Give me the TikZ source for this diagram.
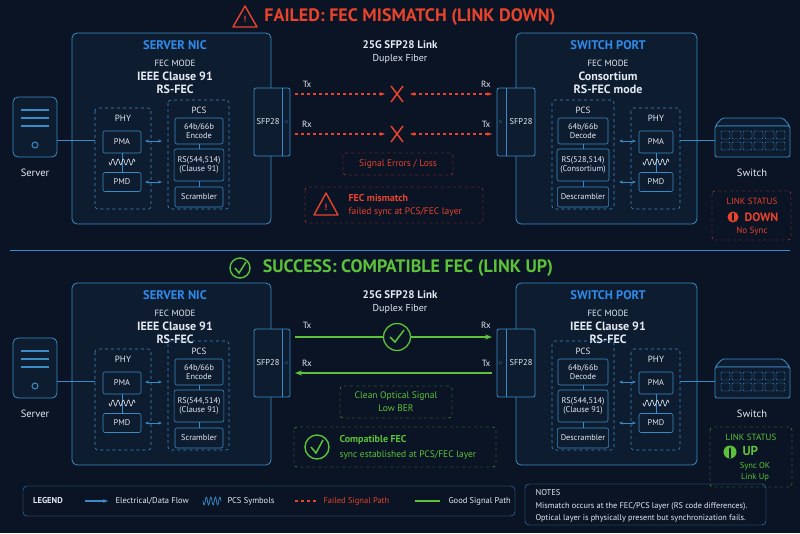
\documentclass[tikz,border=0pt]{standalone}
\usepackage{fontspec}
\setmainfont{PT Sans}
\usetikzlibrary{arrows.meta,positioning}

\definecolor{bg}{HTML}{0A1424}
\definecolor{panel}{HTML}{0E1C30}
\definecolor{edge}{HTML}{3A8CC8}
\definecolor{head}{HTML}{2E8BEA}
\definecolor{bad}{HTML}{E8432C}
\definecolor{good}{HTML}{5CC23A}
\definecolor{txt}{HTML}{E4EAF2}

\tikzset{
  unit/.style={draw=edge, fill=panel, rounded corners=5pt, line width=0.8pt},
  layer/.style={draw=edge, dashed, rounded corners=3pt, line width=0.6pt},
  block/.style={draw=edge, fill=panel, rounded corners=2pt, line width=0.6pt, text=txt,
    font=\fontsize{8.3}{9.5}\selectfont, align=center},
  lbl/.style={text=txt, font=\fontsize{9}{11}\selectfont, align=center},
  hd/.style={text=head, font=\fontsize{12.5}{14}\selectfont\bfseries},
  mode/.style={text=txt, font=\fontsize{12}{13.5}\selectfont\bfseries, align=center},
  flow/.style={{Stealth[length=4pt]}-{Stealth[length=4pt]}, edge, line width=0.8pt},
  failed/.style={bad, dashed, line width=1.2pt},
  ok/.style={good, line width=1.2pt}
}

\newcommand{\wavy}[2]{% squiggle of PCS symbols
  \draw[txt, line width=0.6pt] plot[domain=0:1, samples=60] ({#1+26*\x},{#2+3*sin(\x*1800)});}

\begin{document}
\begin{tikzpicture}[x=1pt, y=-1pt]
  \fill[bg] (0,0) rectangle (800,533);
  \useasboundingbox (0,0) rectangle (800,533);

  % ---------- top: failed ----------
  \node[text=bad, font=\fontsize{18}{20}\selectfont\bfseries] (title1) at (410,17) {FAILED: FEC MISMATCH (LINK DOWN)};
  \draw[bad, line width=1.4pt, line join=round] (245,6) -- (257,27) -- (233,27) -- cycle;
  \node[text=bad, font=\small\bfseries] at (245,19) {!};

  \foreach \dy/\dz/\rs/\rsb/\mA/\mB in {0/0/{RS(528,514)}/{(Consortium)}/Consortium/{RS-FEC mode},
                                   250/-9/{RS(544,514)}/{(Clause 91)}/{IEEE Clause 91}/RS-FEC} {
  \begin{scope}[shift={(0,\dy)}]
    \draw[unit] (72,33) rectangle (271,224+\dz);
    \node[hd] at (175,45) {SERVER NIC};
    \node[lbl] at (175,63) {FEC MODE};
    \node[mode] at (175,83) {IEEE Clause 91\\RS-FEC};
    \draw[unit] (516,33) rectangle (697,224+\dz);
    \node[hd] at (608,45) {SWITCH PORT};
    \node[lbl] at (608,63) {FEC MODE};
    \node[mode] at (608,83) {\mA\\\mB};
    \node[lbl, font=\fontsize{11}{13}\selectfont\bfseries] at (400,45) {25G SFP28 Link};
    \node[lbl, font=\fontsize{10}{12}\selectfont] at (400,59) {Duplex Fiber};
  \begin{scope}[shift={(0,\dz)}]
    % server side
    \draw[unit] (13,97) rectangle (57,157);
    \foreach \ly in {110,118,126} \draw[edge, line width=1.2pt] (21,\ly) -- (49,\ly);
    \draw[edge, line width=1pt] (35,145) circle (3);
    \node[lbl, font=\fontsize{10.5}{12}\selectfont] at (35,173) {Server};
    \draw[layer] (95,108) rectangle (151,209);
    \node[lbl] at (123,118) {PHY};
    \node[block, minimum width=38pt, minimum height=22pt] (pmaL) at (122,142) {PMA};
    \node[block, minimum width=38pt, minimum height=19pt] (pmdL) at (122,182) {PMD};
    \draw[edge] (pmaL) -- (pmdL);
    \wavy{109}{162}
    \draw[edge, line width=0.8pt] (57,140) -- (95,140);
    \draw[layer] (168,100) rectangle (229,209);
    \node[lbl] at (199,110) {PCS};
    \node[block, minimum width=48pt, minimum height=26pt] (encL) at (199,131) {64b/66b\\Encode};
    \node[block, minimum width=48pt, minimum height=32pt] (rsL) at (199,165) {RS(544,514)\\(Clause 91)};
    \node[block, minimum width=48pt, minimum height=20pt] (scrL) at (199,197) {Scrambler};
    \draw[edge] (encL) -- (rsL) -- (scrL);
    \draw[flow] (145,141) -- (162,141);
    \draw[flow] (145,182) -- (162,182);
    \draw[unit, rounded corners=2pt] (254,88) rectangle (290,156);
    \draw[edge, line width=0.6pt] (282,88) -- (282,156);
    \node[lbl, font=\fontsize{8.5}{10}\selectfont] (sfpL) at (268,122) {SFP28};
    \node[text=edge, font=\tiny] at (286,122) {$\triangleleft$};

    % switch side
    \draw[unit, rounded corners=2pt] (497,88) rectangle (535,156);
    \draw[edge, line width=0.6pt] (506,88) -- (506,156);
    \node[lbl, font=\fontsize{8.5}{10}\selectfont] (sfpR) at (521,122) {SFP28};
    \node[text=edge, font=\tiny] at (501,122) {$\triangleright$};
    \draw[layer] (552,100) rectangle (614,209);
    \node[lbl] at (583,110) {PCS};
    \node[block, minimum width=50pt, minimum height=26pt] (decR) at (583,131) {64b/66b\\Decode};
    \node[block, minimum width=50pt, minimum height=32pt] (rsR) at (583,165) {\rs\\\rsb};
    \node[block, minimum width=50pt, minimum height=20pt] (dscR) at (583,197) {Descrambler};
    \draw[edge] (decR) -- (rsR) -- (dscR);
    \draw[layer] (631,108) rectangle (680,209);
    \node[lbl] at (656,118) {PHY};
    \node[block, minimum width=34pt, minimum height=22pt] (pmaR) at (656,142) {PMA};
    \node[block, minimum width=34pt, minimum height=19pt] (pmdR) at (656,182) {PMD};
    \draw[edge] (pmaR) -- (pmdR);
    \wavy{643}{162}
    \draw[flow] (619,141) -- (636,141);
    \draw[flow] (619,182) -- (636,182);
    \draw[unit, rounded corners=2pt] (722,118) -- (783,118) -- (790,126) -- (715,126) -- cycle;
    \draw[unit, rounded corners=2pt] (715,126) rectangle (790,157);
    \foreach \px in {0,...,5} \foreach \py in {131,142}
      \draw[edge, rounded corners=1pt] ({721+11*\px},\py) rectangle ({730+11*\px},\py+8);
    \draw[edge, line width=0.8pt] (680,140) -- (715,140);
    \node[lbl, font=\fontsize{10.5}{12}\selectfont] at (752,173) {Switch};
  \end{scope}
  \end{scope}
  }

  % top links
  \coordinate (t1a) at (295,94);  \coordinate (t1b) at (492,94);
  \coordinate (t2a) at (295,134); \coordinate (t2b) at (492,134);
  \node[lbl] at (307,84) {Tx}; \node[lbl] at (486,84) {Rx};
  \node[lbl] at (307,124) {Rx}; \node[lbl] at (486,124) {Tx};
  \foreach \a/\b/\yy in {t1a/t1b/94, t2a/t2b/134} {
    \draw[failed, -{Stealth[length=5pt]}] (\a) -- (385,\yy);
    \draw[failed, {Stealth[length=5pt]}-{Stealth[length=5pt]}] (410,\yy) -- (\b);
    \draw[bad, line width=1.5pt] (391,\yy-8) -- (403,\yy+8) (391,\yy+8) -- (403,\yy-8);
  }
  \node[draw=bad, dashed, rounded corners=3pt, text=bad, font=\fontsize{9.5}{11}\selectfont,
        minimum width=110pt, minimum height=22pt] (err) at (398,164) {Signal Errors / Loss};
  \draw[bad, dashed, rounded corners=3pt] (305,187) rectangle (483,223);
  \draw[bad, line width=1.4pt, line join=round] (326,193) -- (338,215) -- (314,215) -- cycle;
  \node[text=bad, font=\small\bfseries] at (326,207) {!};
  \node[text=bad, font=\fontsize{10}{12}\selectfont\bfseries, anchor=west] at (345,198) {FEC mismatch};
  \node[text=bad, font=\fontsize{9.5}{11}\selectfont, anchor=west] at (345,212) {failed sync at PCS/FEC layer};
  \draw[bad, dashed, rounded corners=3pt] (712,191) rectangle (791,240);
  \node[text=bad, font=\fontsize{9}{10}\selectfont] at (752,201) {LINK STATUS};
  \fill[bad] (733,217) circle (5.5);
  \draw[bg, line width=1.2pt, -{Stealth[length=3pt]}] (733,213) -- (733,221.5);
  \node[text=bad, font=\fontsize{12}{13}\selectfont\bfseries, anchor=west] at (741,217) {DOWN};
  \node[text=bad, font=\fontsize{9}{10}\selectfont] at (752,231) {No Sync};

  \draw[edge, line width=0.8pt] (10,250) -- (790,250);

  % ---------- bottom: success ----------
  \node[text=good, font=\fontsize{18}{20}\selectfont\bfseries] (title2) at (408,268) {SUCCESS: COMPATIBLE FEC (LINK UP)};
  \draw[good, line width=1.4pt] (240,268) circle (10);
  \draw[good, line width=1.5pt] (235,268) -- (239,273) -- (246,262);
  \coordinate (b1a) at (295,337); \coordinate (b1b) at (492,337);
  \coordinate (b2a) at (295,373); \coordinate (b2b) at (492,373);
  \node[lbl] at (307,325) {Tx}; \node[lbl] at (486,325) {Rx};
  \node[lbl] at (307,363) {Rx}; \node[lbl] at (486,363) {Tx};
  \node[draw=good, line width=1.3pt, circle, minimum size=27pt] (chk) at (397,337) {};
  \draw[good, line width=1.5pt] (390,337) -- (395,342) -- (404,330);
  \draw[ok] (b1a) -- (chk);
  \draw[ok, -{Stealth[length=7pt]}] (chk) -- (b1b);
  \draw[ok, -{Stealth[length=7pt]}] (b2b) -- (b2a);
  \node[draw=good, dashed, rounded corners=3pt, text=good, font=\fontsize{9.5}{13}\selectfont, align=center,
        minimum width=112pt, minimum height=32pt] (clean) at (396,402) {Clean Optical Signal\\Low BER};
  \draw[good, dashed, rounded corners=3pt] (294,427) rectangle (496,467);
  \draw[good, line width=1.4pt] (317,447) circle (12);
  \draw[good, line width=1.5pt] (311,447) -- (316,453) -- (323,440);
  \node[text=good, font=\fontsize{10}{12}\selectfont\bfseries, anchor=west] at (336,440) {Compatible FEC};
  \node[text=good, font=\fontsize{9.5}{11}\selectfont, anchor=west] at (336,455) {sync established at PCS/FEC layer};
  \draw[good, dashed, rounded corners=3pt] (710,427) rectangle (792,487);
  \node[text=good, font=\fontsize{9}{10}\selectfont] at (751,437) {LINK STATUS};
  \fill[good] (730,452) circle (6.5);
  \draw[bg, line width=1.3pt, -{Stealth[length=3pt]}] (730,457.5) -- (730,447);
  \node[text=good, font=\fontsize{13}{14}\selectfont\bfseries, anchor=west] at (739,451) {UP};
  \node[text=good, font=\fontsize{8.5}{11}\selectfont, align=center] at (755,472) {Sync OK\\Link Up};

  % ---------- legend / notes ----------
  \draw[edge, rounded corners=4pt] (23,486) rectangle (515,516);
  \node[lbl, font=\fontsize{8.5}{10}\selectfont\bfseries] at (48,501) {LEGEND};
  \draw[edge, line width=1.2pt, -{Stealth[length=5pt]}] (85,501) -- (108,501);
  \node[lbl, font=\fontsize{8.5}{10}\selectfont, anchor=west] at (112,501) {Electrical/Data Flow};
  \draw[edge, line width=0.7pt] plot[domain=0:1, samples=40] ({203+18*\x},{501+4*sin(\x*1440)});
  \node[lbl, font=\fontsize{8.5}{10}\selectfont, anchor=west] at (224,501) {PCS Symbols};
  \draw[failed, line width=1.4pt] (295,501) -- (318,501);
  \node[text=bad, font=\fontsize{8.5}{10}\selectfont, anchor=west] at (320,501) {Failed Signal Path};
  \draw[ok, line width=1.6pt] (415,501) -- (440,501);
  \node[lbl, font=\fontsize{8.5}{10}\selectfont, anchor=west] at (445,501) {Good Signal Path};
  \draw[edge, rounded corners=4pt] (525,484) rectangle (766,525);
  \node[lbl, font=\fontsize{8.5}{10}\selectfont, anchor=west] at (532,493) {NOTES};
  \node[lbl, font=\fontsize{8.3}{10}\selectfont, anchor=west] at (532,506) {Mismatch occurs at the FEC/PCS layer (RS code differences).};
  \node[lbl, font=\fontsize{8.3}{10}\selectfont, anchor=west] at (532,518) {Optical layer is physically present but synchronization fails.};
\end{tikzpicture}
\end{document}
